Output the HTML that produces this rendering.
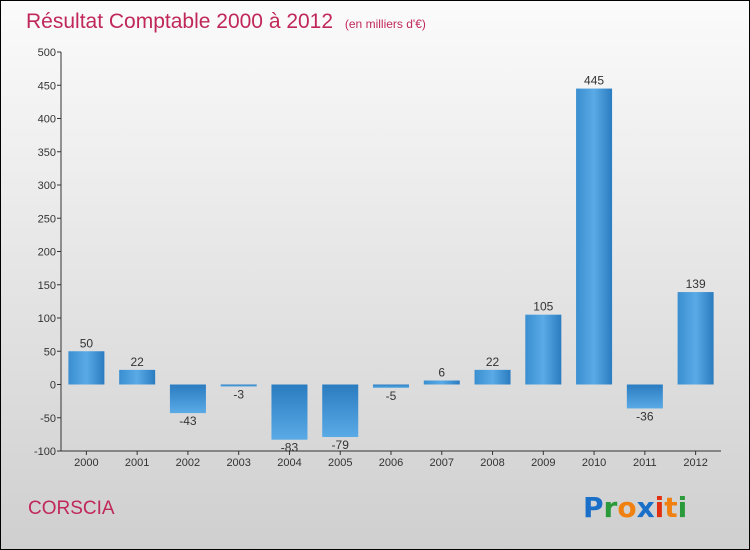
<!DOCTYPE html>
<html><head><meta charset="utf-8"><style>
body{margin:0}
#c{width:748px;height:548px;border:1px solid #000;background:linear-gradient(#fbfbfb,#cfcfcf);position:relative;font-family:"Liberation Sans",sans-serif;overflow:hidden}
</style></head><body>
<div id="c">
<svg id="s" width="748" height="548" xmlns="http://www.w3.org/2000/svg">
<defs><linearGradient id="g" x1="0" x2="1" y1="0" y2="0"><stop offset="0" stop-color="#3a8fd0"/><stop offset="0.5" stop-color="#5aaae6"/><stop offset="1" stop-color="#2a7cc0"/></linearGradient>
<linearGradient id="gn" x1="0" x2="0" y1="0" y2="1"><stop offset="0" stop-color="#2a7cc0"/><stop offset="1" stop-color="#5aaae6"/></linearGradient></defs>
<text x="25" y="27" font-size="21" fill="#c0285a">Résultat Comptable 2000 à 2012 <tspan font-size="12" dx="6">(en milliers d'€)</tspan></text>
<text x="27" y="513" font-size="19" fill="#c0285a">CORSCIA</text>
<g font-size="28" font-weight="bold" font-family="'DejaVu Sans',sans-serif"><text x="582" y="516" fill="#1a6fc8">P<tspan fill="#2a9a3a">r</tspan><tspan fill="#f08010">o</tspan><tspan fill="#1a6fc8">x</tspan><tspan fill="#e03010">i</tspan><tspan fill="#f08010">t</tspan><tspan fill="#2a9a3a">i</tspan></text></g>
<g id="ax"></g><g id="bars"></g>
</svg></div>
<script>
const categories=["2000","2001","2002","2003","2004","2005","2006","2007","2008","2009","2010","2011","2012"];
const values=[50,22,-43,-3,-83,-79,-5,6,22,105,445,-36,139];
const yTicks=[-100,-50,0,50,100,150,200,250,300,350,400,450,500];
const NS="http://www.w3.org/2000/svg";
const L=60,R=720,T=51,B=450;
const y=v=>T+(500-v)*(B-T)/600;
const step=(R-L)/categories.length;
const x=i=>L+step*(i+0.5);
function mk(p,t,a){const e=document.createElementNS(NS,t);for(const k in a)e.setAttribute(k,a[k]);p.appendChild(e);return e;}
const ax=document.getElementById('ax'),bars=document.getElementById('bars');
let l=mk(ax,'line',{x1:L,x2:L,y1:T,y2:B,stroke:'#333'});


l=mk(ax,'line',{x1:L,x2:R,y1:B,y2:B,stroke:'#333'});


yTicks.forEach(v=>{mk(ax,'line',{x1:L-4,x2:L,y1:y(v),y2:y(v),stroke:'#333'});
const t=mk(ax,'text',{x:L-5,y:y(v)+4,'font-size':11,fill:'#333','text-anchor':'end'});t.textContent=v;

});
categories.forEach((c,i)=>{mk(ax,'line',{x1:x(i),x2:x(i),y1:B,y2:B+4,stroke:'#333'});
const t=mk(ax,'text',{x:x(i),y:B+15,'font-size':11,fill:'#333','text-anchor':'middle'});t.textContent=c;


const v=values[i],y0=y(0),yv=y(v);
const r=mk(bars,'rect',{x:x(i)-18,y:Math.min(y0,yv),width:36,height:Math.max(1,Math.abs(yv-y0)),fill:v>=0?'url(#g)':'url(#gn)'});


const lb=mk(bars,'text',{x:x(i),y:v>=0?yv-4:yv+12,'font-size':12,fill:'#333','text-anchor':'middle'});lb.textContent=v;

});
</script>
</body></html>
